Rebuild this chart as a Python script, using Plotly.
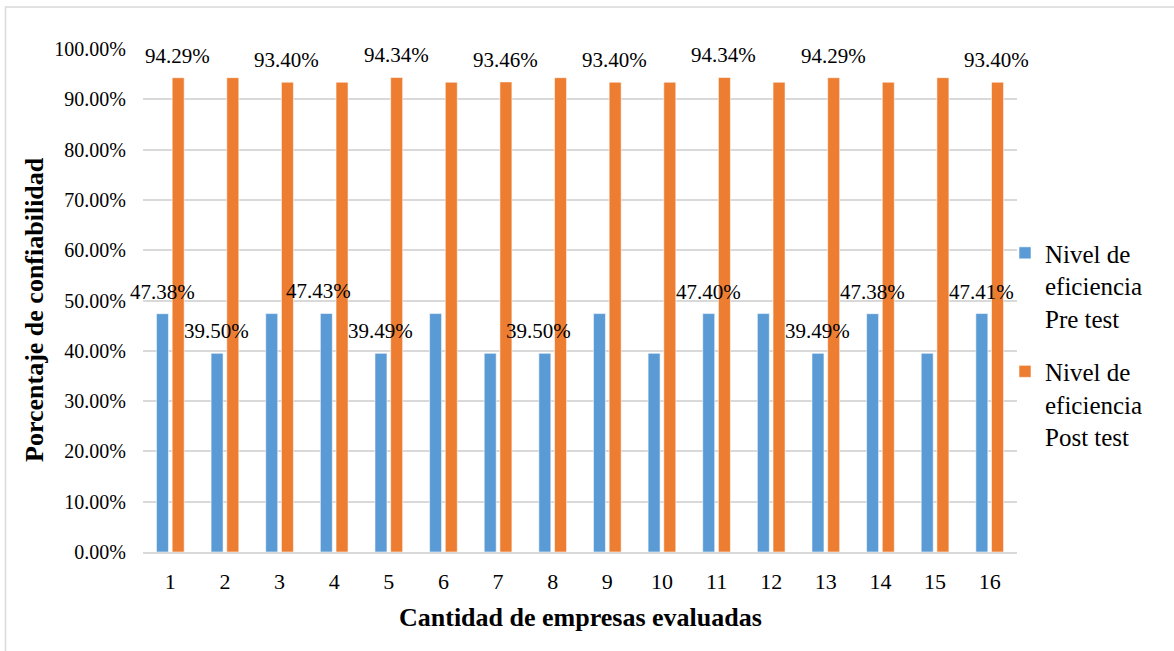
import plotly.graph_objects as go

# Companies evaluated (x categories)
empresas = [str(i) for i in range(1, 17)]

# Efficiency level (%) before and after the intervention
pre_test = [47.38, 39.50, 47.40, 47.43, 39.49, 47.40, 39.50, 39.50,
            47.40, 39.50, 47.40, 47.40, 39.49, 47.38, 39.50, 47.41]
post_test = [94.29, 94.30, 93.40, 93.40, 94.34, 93.40, 93.46, 94.30,
             93.40, 93.40, 94.34, 93.40, 94.29, 93.40, 94.30, 93.40]

# Companies whose bars carry a value label
pre_labelled = ["1", "2", "4", "5", "8", "11", "13", "14", "16"]
post_labelled = ["1", "3", "5", "7", "9", "11", "13", "16"]

y_ticks = [0, 10, 20, 30, 40, 50, 60, 70, 80, 90, 100]
y_ticktext = [f"{v:.2f}%" for v in y_ticks]

BLUE = "#5B9BD5"
ORANGE = "#ED7D31"
GRID = "#D9D9D9"
SERIF = "Liberation Serif"

# Plot-area geometry in pixels
W, H = 1174, 651
ML, MR, MT, MB = 143, 157, 49, 99
plot_w = W - ML - MR
plot_h = H - MT - MB


def px_x(px):
    return (px - ML) / plot_w


def px_y(py):
    return (H - MB - py) / plot_h


fig = go.Figure()
fig.add_trace(go.Bar(
    x=empresas, y=pre_test, name="Nivel de<br>eficiencia<br>Pre test",
    marker=dict(color=BLUE, line=dict(color="rgba(255,255,255,0.7)", width=0.8)),
    legendgroup="pre",
))
fig.add_trace(go.Bar(
    x=empresas, y=post_test, name="Nivel de<br>eficiencia<br>Post test",
    marker=dict(color=ORANGE, line=dict(color="rgba(255,255,255,0.7)", width=0.8)),
    legendgroup="post",
))

# Value labels above the bars (offset to sit over each bar of the pair)
nudge = {("pre", "4"): -7, ("pre", "8"): -6}
annotations = []
for key, cats, vals, dx in (("pre", pre_labelled, pre_test, -8.2),
                            ("post", post_labelled, post_test, 7.2)):
    for c in cats:
        i = empresas.index(c)
        v = vals[i]
        annotations.append(dict(
            x=i, y=v, xref="x", yref="y", text=f"{v:.2f}%",
            showarrow=False, xanchor="center", yanchor="middle",
            xshift=dx + nudge.get((key, c), 0), yshift=22,
            font=dict(family=SERIF, size=21, color="#000000"),
        ))

# Axis titles
annotations.append(dict(
    x=0.5, y=px_y(617), xref="paper", yref="paper",
    text="<b>Cantidad de empresas evaluadas</b>", showarrow=False,
    xanchor="center", yanchor="middle",
    font=dict(family=SERIF, size=26, color="#000000"),
))
annotations.append(dict(
    x=px_x(34), y=px_y(310), xref="paper", yref="paper",
    text="<b>Porcentaje de confiabilidad</b>", showarrow=False, textangle=-90,
    xanchor="center", yanchor="middle",
    font=dict(family=SERIF, size=26, color="#000000"),
))

fig.update_layout(
    width=W, height=H, autosize=False,
    margin=dict(l=ML, r=MR, t=MT, b=MB),
    paper_bgcolor="white", plot_bgcolor="white",
    barmode="group", bargap=0.425, bargroupgap=0.236,
    font=dict(family=SERIF, color="#000000"),
    showlegend=True,
    legend=dict(
        x=px_x(1005), xanchor="left", y=0.64, yanchor="top",
        font=dict(family=SERIF, size=25, color="#000000"),
        valign="top", tracegroupgap=18, bgcolor="rgba(0,0,0,0)",
    ),
    annotations=annotations,
)

fig.update_xaxes(
    type="category", range=[-0.5, len(empresas) - 0.5],
    showgrid=False, showline=True, linecolor=GRID, linewidth=1.5,
    ticks="", ticklabelstandoff=9,
    tickfont=dict(family=SERIF, size=22, color="#000000"),
)
fig.update_yaxes(
    range=[0, 100], tickmode="array", tickvals=y_ticks, ticktext=y_ticktext,
    showgrid=True, gridcolor=GRID, gridwidth=1.5, zeroline=False, showline=False,
    ticks="", ticklabelstandoff=16,
    tickfont=dict(family=SERIF, size=20, color="#000000"),
)

# Light frame around the chart
fig.add_shape(
    type="rect", xref="paper", yref="paper",
    x0=px_x(5.5), x1=px_x(1185), y0=px_y(665), y1=px_y(7),
    line=dict(color=GRID, width=1.5), fillcolor="rgba(0,0,0,0)", layer="below",
)

fig.write_html("out.html")
